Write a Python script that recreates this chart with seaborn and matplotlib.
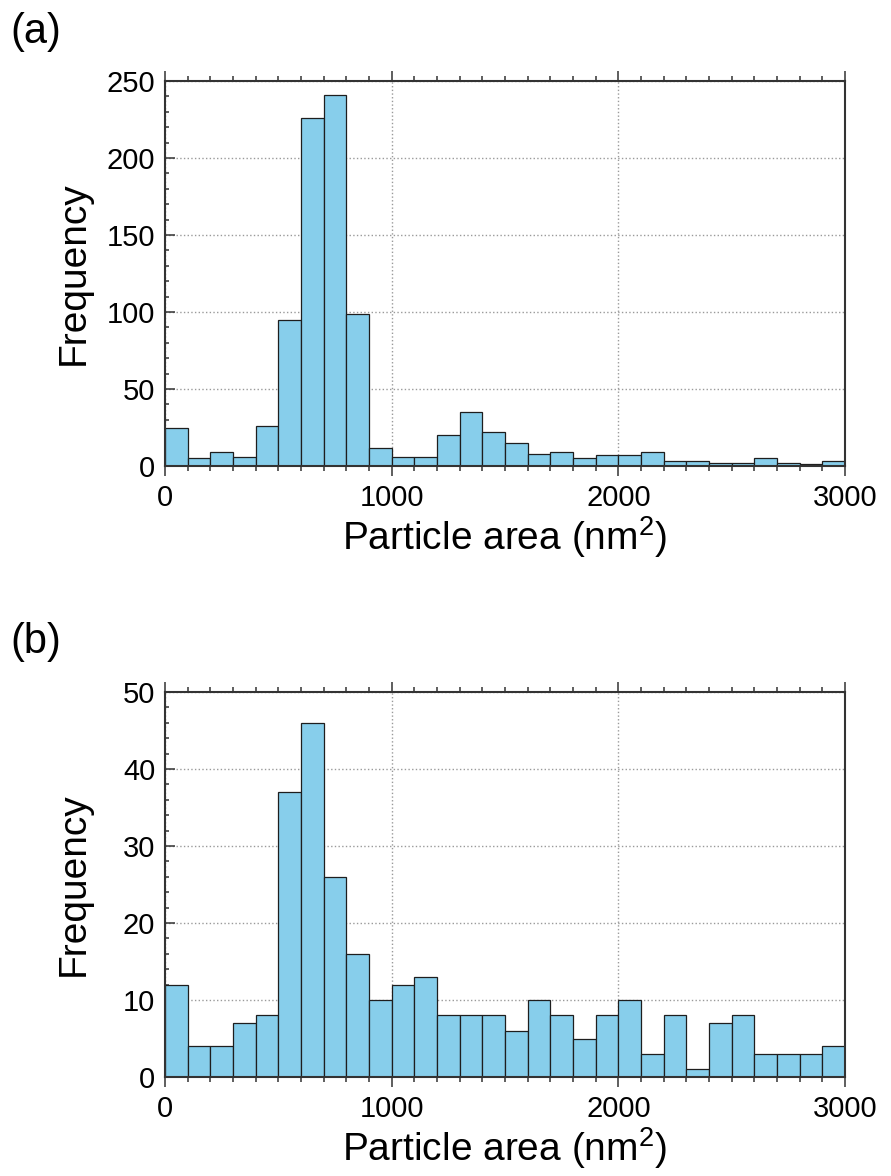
from matplotlib import pyplot as plt
from matplotlib.ticker import MultipleLocator
import pandas as pd
import seaborn as sns


# bin left edges (nm^2), bin width 100
bin_left = list(range(0, 3000, 100))
bin_width = 100

# counts
counts_a = [25, 5, 9, 6, 26, 95, 226, 241, 99, 12,
            6, 6, 20, 35, 22, 15, 8, 9, 5, 7,
            7, 9, 3, 3, 2, 2, 5, 2, 1, 3]
counts_b = [12, 4, 4, 7, 8, 37, 46, 26, 16, 10,
            12, 13, 8, 8, 8, 6, 10, 8, 5, 8,
            10, 3, 8, 1, 7, 8, 3, 3, 3, 4]

panels = [('(a)', counts_a, 250, 50, 10),
          ('(b)', counts_b, 50, 10, 2)]


sns.set_style('white')
plt.rcParams['font.family'] = ['Liberation Sans', 'DejaVu Sans']
plt.rcParams['mathtext.default'] = 'regular'
plt.rcParams['text.color'] = 'black'
plt.rcParams['axes.labelcolor'] = 'black'
plt.rcParams['xtick.labelcolor'] = 'black'
plt.rcParams['ytick.labelcolor'] = 'black'

fig = plt.figure(figsize=(8.91, 11.76), dpi=100)

ax_boxes = [[165 / 891, 1 - 466 / 1176, 680 / 891, 385 / 1176],
            [165 / 891, 1 - 1077 / 1176, 680 / 891, 385 / 1176]]
label_tops = [1 - 12 / 1176, 1 - 622 / 1176]

for i in range(len(panels)):
	tag, counts, ymax, ymaj, ymin = panels[i]
	ax = fig.add_axes(ax_boxes[i])

	df = pd.DataFrame({
		'area': [b + bin_width / 2 for b in bin_left],
		'count': counts
	})
	edges = bin_left + [bin_left[-1] + bin_width]
	sns.histplot(data=df, x='area', weights='count', bins=edges,
		color='#87CEEB', edgecolor='#1e1e1e', linewidth=0.9,
		alpha=1, ax=ax)

	ax.set_xlim(0, 3000)
	ax.set_ylim(0, ymax)
	ax.xaxis.set_major_locator(MultipleLocator(1000))
	ax.xaxis.set_minor_locator(MultipleLocator(100))
	ax.yaxis.set_major_locator(MultipleLocator(ymaj))
	ax.yaxis.set_minor_locator(MultipleLocator(ymin))

	ax.set_axisbelow(True)
	ax.grid(True, which='major', linestyle=':', color='#9a9a9a', linewidth=1.0)

	ax.tick_params(axis='x', which='both', direction='out', top=True, bottom=True,
		color='#333333', width=1.1, labelsize=21, pad=6)
	ax.tick_params(axis='x', which='major', length=7)
	ax.tick_params(axis='x', which='minor', length=3.5)
	ax.tick_params(axis='y', which='both', direction='in', left=True, right=False,
		color='#333333', width=1.1, labelsize=21, pad=7)
	ax.tick_params(axis='y', which='major', length=7)
	ax.tick_params(axis='y', which='minor', length=3)

	for s in ax.spines.values():
		s.set_linewidth(1.5)
		s.set_color('#333333')

	ax.set_xlabel('Particle area (nm$^{2}$)', fontsize=28)
	ax.xaxis.set_label_coords(0.5, -0.125)
	ax.xaxis.label.set_va('top')
	ax.set_ylabel('Frequency', fontsize=28)
	ax.yaxis.set_label_coords(-0.107, 0.5)

	fig.text(10 / 891, label_tops[i], tag, fontsize=30, va='top', ha='left')

plt.savefig('out.png', dpi=100)
